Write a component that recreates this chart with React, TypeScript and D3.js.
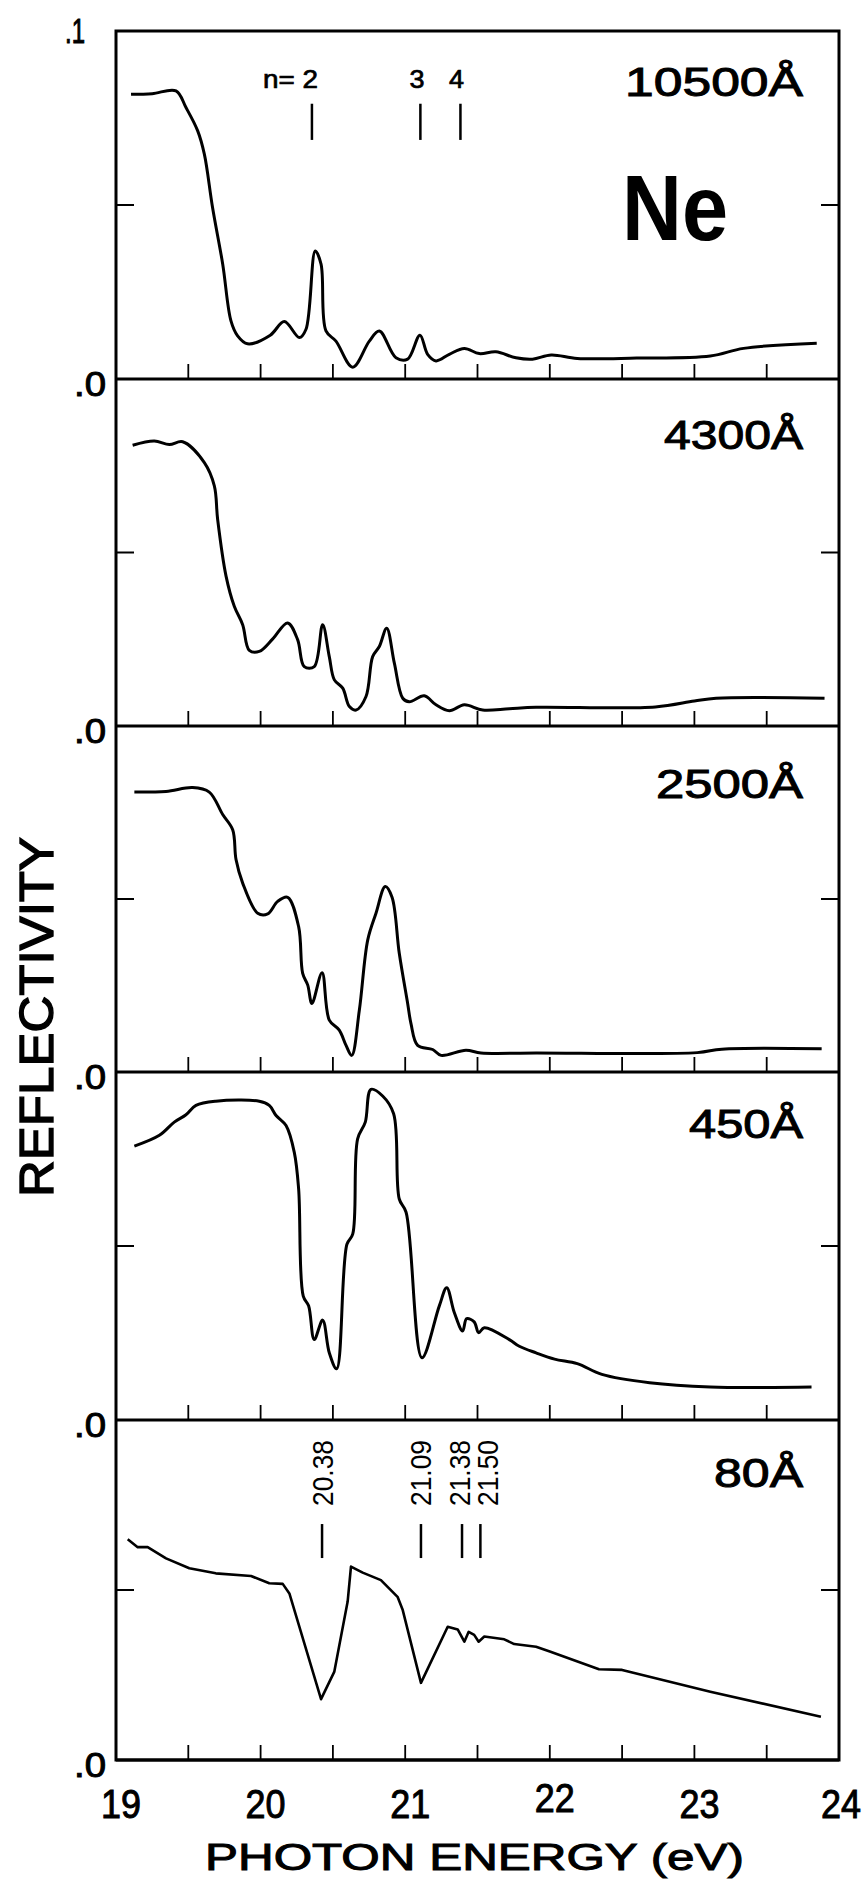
import React from "react";
import * as d3 from "d3";

// ---- data (photon energy eV, reflectivity) ----
const panelLabels = ["10500Å", "4300Å", "2500Å", "450Å", "80Å"];

const r10500: [number, number][] = [
  [19.104, 0.0818], [19.25, 0.082], [19.415, 0.0828], [19.484, 0.078], [19.565, 0.0713],
  [19.611, 0.0646], [19.668, 0.0492], [19.738, 0.033], [19.795, 0.0167], [19.841, 0.0124],
  [19.91, 0.0101], [20.067, 0.0126], [20.164, 0.0165], [20.268, 0.0119], [20.314, 0.0143],
  [20.378, 0.0368], [20.418, 0.033], [20.452, 0.0138], [20.521, 0.0109], [20.637, 0.0034],
  [20.752, 0.0109], [20.821, 0.0138], [20.936, 0.0061], [21.017, 0.0057], [21.102, 0.0126],
  [21.155, 0.0071], [21.213, 0.0052], [21.305, 0.0071], [21.409, 0.0088], [21.512, 0.0073],
  [21.627, 0.0078], [21.766, 0.0061], [21.88, 0.0057], [22.01, 0.0069], [22.19, 0.0059],
  [22.6, 0.006], [23.11, 0.0066], [23.34, 0.0088], [23.846, 0.0103],
];

const r4300: [number, number][] = [
  [19.115, 0.0809], [19.265, 0.0821], [19.369, 0.0811], [19.461, 0.0819], [19.611, 0.0759],
  [19.68, 0.0692], [19.703, 0.0595], [19.761, 0.0432], [19.818, 0.0345], [19.876, 0.0292],
  [19.922, 0.0218], [19.991, 0.0215], [20.084, 0.0251], [20.187, 0.0297], [20.256, 0.0249],
  [20.302, 0.0171], [20.371, 0.0171], [20.429, 0.0292], [20.475, 0.02], [20.51, 0.0133],
  [20.568, 0.0109], [20.614, 0.0056], [20.66, 0.0046], [20.729, 0.0085], [20.775, 0.02],
  [20.821, 0.0229], [20.872, 0.0282], [20.925, 0.0181], [20.983, 0.008], [21.028, 0.007],
  [21.132, 0.0087], [21.213, 0.0061], [21.305, 0.0044], [21.409, 0.0061], [21.536, 0.0046],
  [21.72, 0.005], [21.905, 0.0054], [22.73, 0.0055], [23.0, 0.0072], [23.15, 0.008],
  [23.9, 0.008],
];

const r2500: [number, number][] = [
  [19.127, 0.0809], [19.346, 0.0811], [19.53, 0.0822], [19.645, 0.0809], [19.738, 0.0744],
  [19.807, 0.07], [19.83, 0.0614], [19.876, 0.0546], [19.98, 0.0459], [20.049, 0.0457],
  [20.118, 0.0493], [20.187, 0.0505], [20.263, 0.042], [20.291, 0.0285], [20.326, 0.0251],
  [20.355, 0.0198], [20.425, 0.0287], [20.475, 0.015], [20.544, 0.0121], [20.591, 0.0077],
  [20.63, 0.0048], [20.683, 0.0179], [20.741, 0.0382], [20.798, 0.0459], [20.862, 0.0536],
  [20.909, 0.0505], [20.959, 0.0343], [21.017, 0.0198], [21.04, 0.014], [21.086, 0.0077],
  [21.19, 0.0065], [21.248, 0.0048], [21.42, 0.0063], [21.524, 0.0055], [21.905, 0.0055],
  [23.02, 0.0056], [23.19, 0.0066], [23.88, 0.0067],
];

const r450: [number, number][] = [
  [19.127, 0.0787], [19.3, 0.0818], [19.403, 0.0856], [19.484, 0.0877], [19.553, 0.0904],
  [19.69, 0.0916], [19.991, 0.0916], [20.06, 0.0904], [20.107, 0.0875], [20.176, 0.0846],
  [20.233, 0.0769], [20.263, 0.0664], [20.295, 0.0356], [20.332, 0.0328], [20.371, 0.0231],
  [20.429, 0.0287], [20.475, 0.0193], [20.526, 0.0147], [20.597, 0.0505], [20.637, 0.0534],
  [20.671, 0.0808], [20.724, 0.0856], [20.763, 0.095], [20.844, 0.0931], [20.92, 0.088],
  [20.959, 0.0635], [21.006, 0.0597], [21.116, 0.0179], [21.236, 0.0328], [21.287, 0.038],
  [21.34, 0.0308], [21.397, 0.0256], [21.425, 0.0291], [21.477, 0.0282], [21.508, 0.0251],
  [21.547, 0.0265], [21.72, 0.0231], [21.789, 0.0212], [21.905, 0.0193], [22.033, 0.0175],
  [22.19, 0.0162], [22.36, 0.0131], [22.69, 0.0107], [23.11, 0.0095], [23.81, 0.0095],
];

const r80: [number, number][] = [
  [19.081, 0.0649], [19.15, 0.0626], [19.219, 0.0626], [19.346, 0.0593], [19.507, 0.0564],
  [19.69, 0.0549], [19.934, 0.0541], [20.06, 0.052], [20.153, 0.0518], [20.199, 0.049],
  [20.418, 0.0179], [20.51, 0.026], [20.602, 0.0466], [20.625, 0.0569], [20.706, 0.0551],
  [20.832, 0.0529], [20.947, 0.048], [20.983, 0.0441], [21.109, 0.0227], [21.294, 0.0392],
  [21.363, 0.0384], [21.409, 0.0348], [21.439, 0.0377], [21.477, 0.0368], [21.508, 0.0348],
  [21.547, 0.0363], [21.685, 0.0355], [21.754, 0.0341], [21.905, 0.0333], [22.0, 0.0319],
  [22.34, 0.0267], [22.5, 0.0265], [23.11, 0.0201], [23.875, 0.0127],
];

const series = [r10500, r4300, r2500, r450, r80];

const xTickLabels = [19, 20, 21, 22, 23, 24];
const xMinorTicks = [19.5, 20, 20.5, 21, 21.5, 22, 22.5, 23, 23.5];

// Rydberg markers
const topMarkers = [20.355, 21.105, 21.382];
const topMarkerLabels = ["n= 2", "3", "4"];
const topMarkerLabelX = [20.397, 21.082, 21.355];
const bottomMarkers = [20.425, 21.109, 21.393, 21.52];
const bottomMarkerLabels = ["20.38", "21.09", "21.38", "21.50"];
const bottomMarkerLabelX = [20.427, 21.102, 21.369, 21.566];

// ---- layout ----
const W = 868;
const H = 1881;
const left = 116;
const right = 839;
const panelTops = [31, 379, 726, 1072, 1420];
const bottomEdge = 1760;
const labelWidths = [178, 139, 147, 114, 89];
const labelBaselines = [96, 449, 798, 1138, 1487];

const FONT = "'Liberation Sans', Arial, sans-serif";
const heavy = { stroke: "#000", strokeWidth: 1 };

export default function App() {
  const x = d3.scaleLinear().domain([19, 24]).range([left, right]);
  const panels = panelTops.map((top, i) => {
    const bottom = i < panelTops.length - 1 ? panelTops[i + 1] : bottomEdge;
    const y = d3.scaleLinear().domain([0, 0.1]).range([bottom, top]);
    return { top, bottom, y };
  });

  return (
    <svg
      width={W}
      height={H}
      style={{ position: "absolute", left: 0, top: 0, background: "#fff" }}
      fontFamily={FONT}
    >
      <rect x={0} y={0} width={W} height={H} fill="#fff" />
      {panels.map((p, i) => {
        const smooth = i < 4;
        const line = d3
          .line<[number, number]>()
          .x((d) => x(d[0]))
          .y((d) => p.y(d[1]))
          .curve(smooth ? d3.curveCatmullRom.alpha(0.5) : d3.curveLinear);
        const mid = p.y(0.05);
        return (
          <g key={i}>
            {xMinorTicks.map((t) => (
              <line key={t} x1={x(t)} x2={x(t)} y1={p.bottom} y2={p.bottom - 15} stroke="#000" strokeWidth={1.8} />
            ))}
            <line x1={left} x2={left + 18} y1={mid} y2={mid} stroke="#000" strokeWidth={2} />
            <line x1={right - 18} x2={right} y1={mid} y2={mid} stroke="#000" strokeWidth={2} />
            <line x1={left} x2={right} y1={p.bottom} y2={p.bottom} stroke="#000" strokeWidth={2.8} />
            <path
              d={line(series[i]) || ""}
              fill="none"
              stroke="#000"
              strokeWidth={i === 4 ? 2.6 : 3}
              strokeLinejoin="round"
            />
            <text
              x={right - 36}
              y={labelBaselines[i]}
              textAnchor="end"
              fontSize={41}
              textLength={labelWidths[i]}
              lengthAdjust="spacingAndGlyphs"
              {...heavy}
            >
              {panelLabels[i]}
            </text>
            <text
              x={106}
              y={p.bottom + 17}
              textAnchor="end"
              fontSize={35}
              textLength={32}
              lengthAdjust="spacingAndGlyphs"
              {...heavy}
            >
              .0
            </text>
          </g>
        );
      })}
      <rect
        x={left}
        y={panelTops[0]}
        width={right - left}
        height={bottomEdge - panelTops[0]}
        fill="none"
        stroke="#000"
        strokeWidth={3}
      />
      <text x={85} y={43} textAnchor="end" fontSize={35} textLength={20} lengthAdjust="spacingAndGlyphs" {...heavy}>
        .1
      </text>
      <text x={622} y={240} fontSize={93} fontWeight="bold" textLength={106} lengthAdjust="spacingAndGlyphs">
        Ne
      </text>
      {topMarkers.map((m, i) => (
        <g key={"tm" + i}>
          <line
            x1={x(m)}
            x2={x(m)}
            y1={panels[0].y(0.0791)}
            y2={panels[0].y(0.0687)}
            stroke="#000"
            strokeWidth={2.5}
          />
          <text
            x={x(topMarkerLabelX[i])}
            y={88}
            textAnchor={i === 0 ? "end" : "middle"}
            fontSize={25}
            textLength={i === 0 ? 55 : 15}
            lengthAdjust="spacingAndGlyphs"
            stroke="#000"
            strokeWidth={0.7}
          >
            {topMarkerLabels[i]}
          </text>
        </g>
      ))}
      {bottomMarkers.map((m, i) => {
        const cx = x(bottomMarkerLabelX[i]);
        return (
          <g key={"bm" + i}>
            <line
              x1={x(m)}
              x2={x(m)}
              y1={panels[4].y(0.0694)}
              y2={panels[4].y(0.0594)}
              stroke="#000"
              strokeWidth={2.5}
            />
            <text
              transform={`translate(${cx + 11},1506) rotate(-90)`}
              x={0}
              y={0}
              fontSize={30}
              textLength={66}
              lengthAdjust="spacingAndGlyphs"
            >
              {bottomMarkerLabels[i]}
            </text>
          </g>
        );
      })}
      {xTickLabels.map((t, i) => (
        <text
          key={t}
          x={i === xTickLabels.length - 1 ? x(t) + 2 : x(t) + 5}
          y={t === 22 ? 1812 : 1818}
          textAnchor="middle"
          fontSize={41}
          textLength={40}
          lengthAdjust="spacingAndGlyphs"
          {...heavy}
        >
          {t}
        </text>
      ))}
      <text x={205} y={1870} fontSize={37} textLength={539} lengthAdjust="spacingAndGlyphs" {...heavy}>
        PHOTON ENERGY (eV)
      </text>
      <text
        transform="translate(53,1017) rotate(-90)"
        textAnchor="middle"
        fontSize={49}
        textLength={360}
        lengthAdjust="spacingAndGlyphs"
        stroke="#000"
        strokeWidth={1.4}
      >
        REFLECTIVITY
      </text>
    </svg>
  );
}
